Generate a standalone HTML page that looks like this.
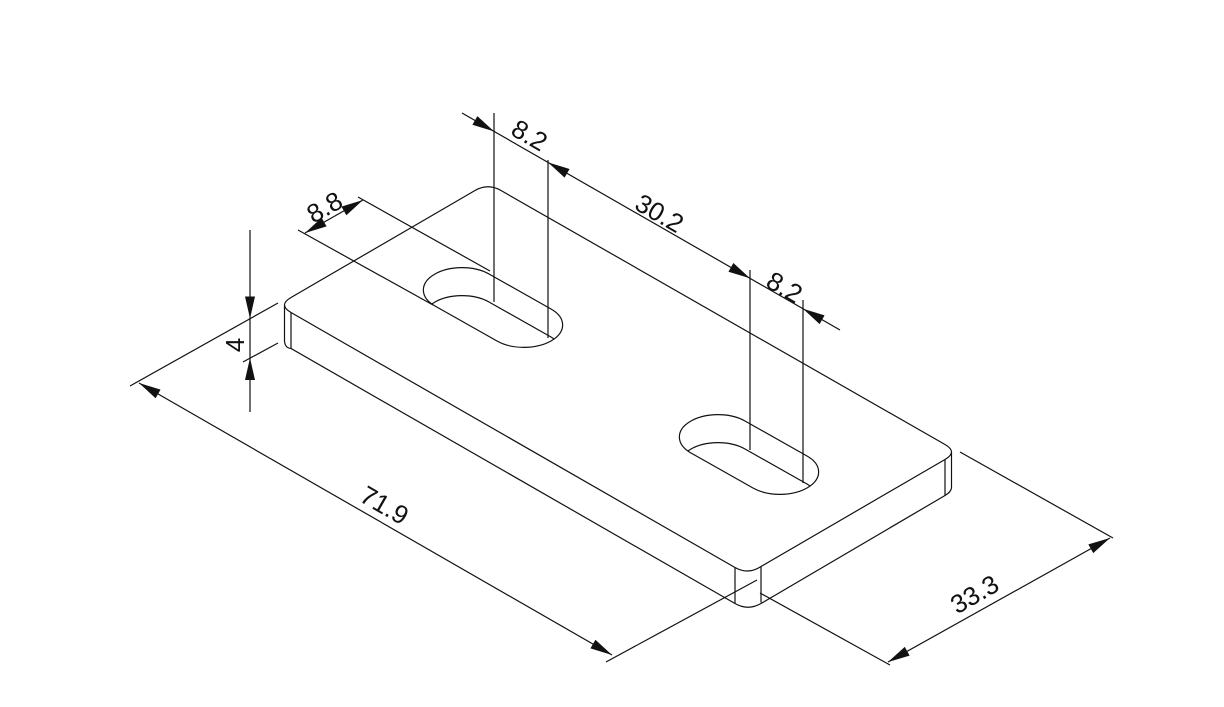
<!DOCTYPE html>
<html><head><meta charset="utf-8"><style>
html,body{margin:0;padding:0;background:#fff;}
svg{display:block;}
text{font-family:"Liberation Sans",sans-serif;font-size:26px;fill:#111;}
</style></head><body>
<svg width="1224" height="707" viewBox="0 0 1224 707" xmlns="http://www.w3.org/2000/svg">
<defs>
<path id="slot" d="M489,274 L551,309 A38,22 0 0 1 497,341 L435,306 A38,22 0 0 1 489,274 Z"/>
<clipPath id="c1"><use href="#slot"/></clipPath>
<clipPath id="c2"><use href="#slot" transform="translate(256,147)"/></clipPath>
</defs>
<g fill="none" stroke="#111" stroke-width="1.2">
<path d="M291,312.5 L735,567.5 Q748,575 761,566.5 L945,459.5 Q958,452 945,444.5 L501,190.5 Q488,183 475,190.5 L291,297.5 Q278,305 291,312.5 Z"/>
<path d="M284.5,341 Q285,348 291,348.5 L735,603.5 Q748,611 761,603.5 L945,495.5 Q951,492 951.5,488"/>
<line x1="284.5" y1="305" x2="284.5" y2="341"/>
<line x1="291" y1="312.5" x2="291" y2="348.5"/>
<line x1="735" y1="567.5" x2="735" y2="603.5"/>
<line x1="761" y1="566.5" x2="761" y2="602.5"/>
<line x1="945" y1="459.5" x2="945" y2="495.5"/>
<line x1="951.5" y1="452" x2="951.5" y2="488"/>
<use href="#slot"/>
<g clip-path="url(#c1)"><use href="#slot" transform="translate(0,28)"/></g>
<g transform="translate(256,147)"><use href="#slot"/></g>
<g clip-path="url(#c2)"><use href="#slot" transform="translate(256,175)"/></g>
<line x1="494" y1="113" x2="494" y2="302"/>
<line x1="548" y1="160" x2="548" y2="338"/>
<line x1="750" y1="270" x2="750" y2="450"/>
<line x1="803" y1="300" x2="803" y2="483"/>
<line x1="462" y1="113" x2="840" y2="330"/>
<line x1="298" y1="230" x2="433" y2="305"/>
<line x1="358" y1="197" x2="490" y2="271"/>
<line x1="305" y1="233" x2="363" y2="200"/>
<line x1="250" y1="230" x2="250" y2="412"/>
<line x1="130" y1="386" x2="278" y2="303"/>
<line x1="243" y1="362" x2="278" y2="343"/>
<line x1="139" y1="383" x2="612" y2="655"/>
<line x1="757" y1="580" x2="606" y2="662"/>
<line x1="960" y1="452" x2="1113" y2="538"/>
<line x1="760" y1="593" x2="890" y2="665"/>
<line x1="888" y1="662" x2="1110" y2="538"/>
</g>
<g fill="#111">
<g transform="translate(494,131.4) rotate(29.8)"><polygon points="0,0 -22,-5 -22,5"/></g>
<g transform="translate(548,162.4) rotate(209.8)"><polygon points="0,0 -22,-5 -22,5"/></g>
<g transform="translate(750,278.3) rotate(29.8)"><polygon points="0,0 -22,-5 -22,5"/></g>
<g transform="translate(803,308.8) rotate(209.8)"><polygon points="0,0 -22,-5 -22,5"/></g>
<g transform="translate(305,233) rotate(150.2)"><polygon points="0,0 -22,-5 -22,5"/></g>
<g transform="translate(363,200) rotate(-29.8)"><polygon points="0,0 -22,-5 -22,5"/></g>
<g transform="translate(250,318.5) rotate(90)"><polygon points="0,0 -22,-5 -22,5"/></g>
<g transform="translate(250,358) rotate(-90)"><polygon points="0,0 -22,-5 -22,5"/></g>
<g transform="translate(139,383) rotate(209.9)"><polygon points="0,0 -22,-5 -22,5"/></g>
<g transform="translate(612,655) rotate(29.9)"><polygon points="0,0 -22,-5 -22,5"/></g>
<g transform="translate(888,662) rotate(150.8)"><polygon points="0,0 -22,-5 -22,5"/></g>
<g transform="translate(1110,538) rotate(-29.2)"><polygon points="0,0 -22,-5 -22,5"/></g>
</g>
<g text-anchor="middle">
<text transform="translate(525,143) rotate(30)">8.2</text>
<text transform="translate(655,221) rotate(30)">30.2</text>
<text transform="translate(780,295) rotate(30)">8.2</text>
<text transform="translate(329,215) rotate(-30)">8.8</text>
<text transform="translate(244,345) rotate(-90)">4</text>
<text transform="translate(380,513) rotate(30)">71.9</text>
<text transform="translate(979,602) rotate(-30)">33.3</text>
</g>
</svg>
</body></html>
